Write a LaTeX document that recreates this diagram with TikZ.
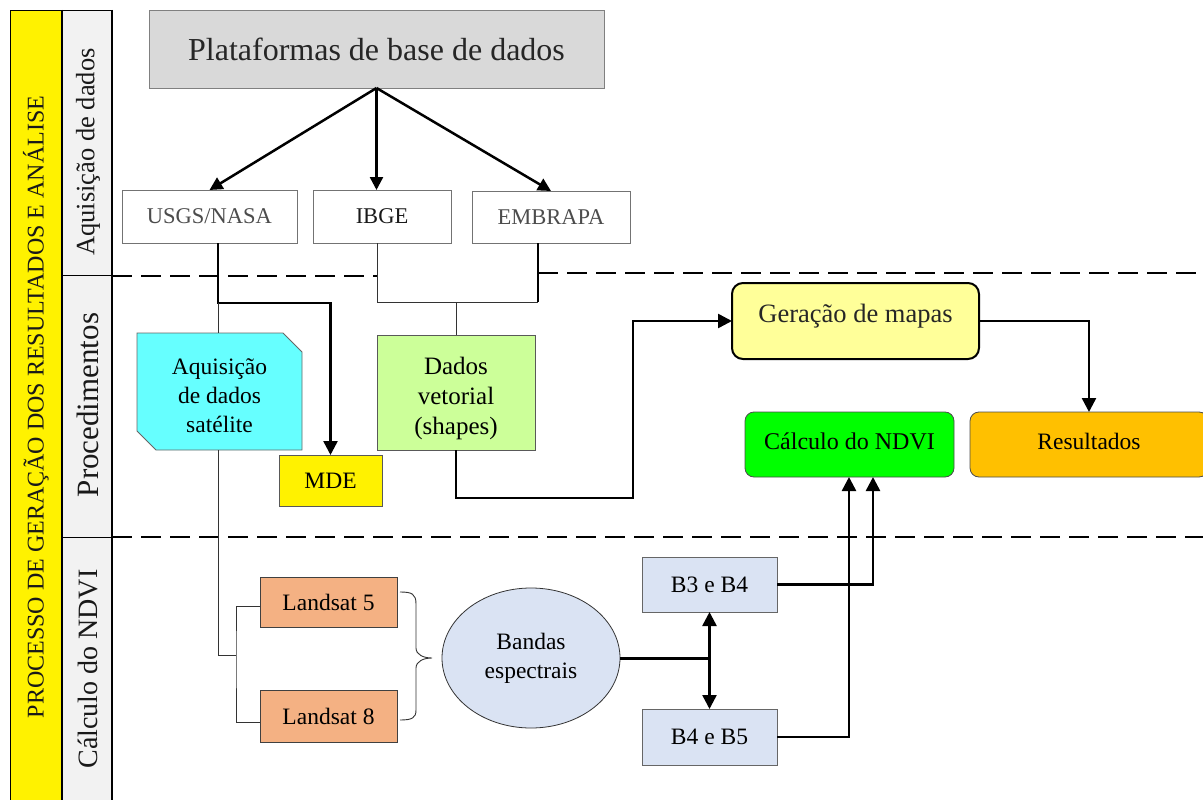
\documentclass[tikz,border=0pt]{standalone}
\usepackage{fontspec}
\setmainfont{Liberation Serif}
\usetikzlibrary{arrows.meta,calc,shapes.geometric}
\definecolor{titlegray}{HTML}{D9D9D9}
\definecolor{cyanfill}{HTML}{66FFFF}
\definecolor{vecgreen}{HTML}{CCFF99}
\definecolor{mapyellow}{HTML}{FFFF99}
\definecolor{ndvigreen}{HTML}{00FF00}
\definecolor{resorange}{HTML}{FFC000}
\definecolor{landsatc}{HTML}{F4B183}
\definecolor{bandblue}{HTML}{DAE3F3}
\definecolor{colgray}{HTML}{F2F2F2}
\newcommand{\lowerlines}[1]{\raisebox{-6pt}[\height][\depth]{\begin{tabular}{@{}c@{}}#1\end{tabular}}}
\begin{document}
\begin{tikzpicture}[x=1pt,y=-1pt,
  base/.style={inner sep=0pt, outer sep=0pt, align=center, line width=0.8pt,
    font=\fontsize{23.5}{29}\selectfont, text=black},
  srcbox/.style={base, draw=black!55, fill=white, text=black!70, font=\fontsize{22.5}{27}\selectfont},
  plainbox/.style={base, draw=black!65},
  roundbox/.style={base, draw=black!70, rounded corners=9pt},
  conn/.style={line width=2.5pt, black},
  thinconn/.style={line width=0.9pt, black!80},
  arr/.style={conn, -{Triangle[length=14pt,width=14pt]}},
  arrsmall/.style={conn, -{Triangle[length=13pt,width=13pt]}},
  dashline/.style={line width=2.8pt, black, dash pattern=on 20pt off 9pt},
  sidelabel/.style={rotate=90, inner sep=0pt, text=black!90}
]
\useasboundingbox (0,0) rectangle (1203,800);

% ---------- left columns ----------
\fill[yellow] (10,10) rectangle (62,800);
\fill[colgray] (62,10) rectangle (112,800);
\draw[line width=0.9pt] (10,800) -- (10,10) -- (112,10);
\draw[line width=1.2pt] (62,10) -- (62,800);
\draw[line width=1pt] (62,275) -- (112,275);
\draw[line width=1pt] (62,537) -- (112,537);
\draw[line width=2pt] (112,10) -- (112,800);
\node[sidelabel, font=\fontsize{24}{24}\selectfont] (lproc) at (36,407) {PROCESSO DE GERAÇÃO DOS RESULTADOS E ANÁLISE};
\node[sidelabel, font=\fontsize{26.5}{26.5}\selectfont] (laq) at (88,152) {Aquisição de dados};
\node[sidelabel, font=\fontsize{31}{31}\selectfont] (lpr) at (88,405) {Procedimentos};
\node[sidelabel, font=\fontsize{28}{28}\selectfont] (lcal) at (88,669) {Cálculo do NDVI};

% ---------- dashed separators ----------
\draw[dashline] (112,276) -- (377,276);
\draw[dashline] (538,273) -- (1203,273);
\draw[dashline] (112,537) -- (1203,537);

% ---------- top ----------
\node[base, draw=black!50, fill=titlegray, minimum width=455pt, minimum height=78pt,
      font=\fontsize{32}{36}\selectfont, text=black!85] (title) at (376.5,49) {Plataformas de base de dados};
\node[srcbox, minimum width=175pt, minimum height=53pt] (usgs) at (209.5,216.5) {USGS/NASA};
\node[srcbox, minimum width=138pt, minimum height=53pt, text=black!90] (ibge) at (382,216.5) {IBGE};
\node[srcbox, minimum width=158pt, minimum height=52pt] (embrapa) at (551,217) {EMBRAPA};

\draw[arrsmall] (title.south) -- (usgs.north);
\draw[arrsmall] (title.south) -- (ibge.north -| title.south);
\draw[arrsmall] (title.south) -- (embrapa.north);

% ---------- procedimentos ----------
\draw[fill=cyanfill, draw=black!60, line width=0.8pt]
  (137,333) -- (283,333) -- (302,352) -- (302,450) -- (156,450) -- (137,431) -- cycle;
\node[base, minimum width=165pt, minimum height=117pt] (cyan) at (219.5,391.5) {\lowerlines{Aquisição\\de dados\\satélite}};
\node[plainbox, fill=yellow, minimum width=103pt, minimum height=51pt] (mde) at (330.5,480.5) {MDE};
\node[plainbox, fill=vecgreen, minimum width=158pt, minimum height=115pt,
      font=\fontsize{25}{30}\selectfont] (dados) at (456,392.5) {\lowerlines{Dados\\vetorial\\(shapes)}};

\node[base, draw=black, line width=2pt, fill=mapyellow, rounded corners=11pt,
      minimum width=247pt, minimum height=76pt, font=\fontsize{26.5}{30}\selectfont, text=black!85]
      (ger) at (855.5,321) {\raisebox{16pt}{Geração de mapas}};
\node[roundbox, fill=ndvigreen, minimum width=209pt, minimum height=65pt,
      font=\fontsize{24}{29}\selectfont] (calc) at (849.5,444.5) {\raisebox{6pt}{Cálculo do NDVI}};
\node[roundbox, fill=resorange, minimum width=238pt, minimum height=65pt] (res) at (1089,444.5) {\raisebox{6pt}{Resultados}};

% USGS -> MDE (thick) and thin branch to satellite box
\draw[arr] ([xshift=8.5pt]usgs.south) -- ++(0,60) coordinate (ju) -| (mde.north);
\draw[thinconn] (ju) -- (ju |- cyan.north);

% IBGE / EMBRAPA -> Dados vetorial
\path ([xshift=-13pt]embrapa.south) ++(0,59) coordinate (jv);
\draw[thinconn] ([xshift=-5pt]ibge.south) |- (jv);
\draw[conn] ([xshift=-13pt]embrapa.south) -- (jv);
\draw[thinconn] (dados.north) -- (dados.north |- jv);

% Dados vetorial -> Geracao de mapas
\draw[arr] (dados.south) -- ++(0,48) -- ++(177,0) |- (ger.west);
% Geracao -> Resultados
\draw[arr] (ger.east) -| (res.north);

% ---------- calculo do NDVI ----------
\node[plainbox, draw=black!75, fill=landsatc, minimum width=137pt, minimum height=50pt] (l5) at (328.5,602) {Landsat 5};
\node[plainbox, draw=black!75, fill=landsatc, minimum width=137pt, minimum height=52pt] (l8) at (328.5,716) {Landsat 8};
\node[base, draw=black!80, fill=bandblue, ellipse, minimum width=178pt, minimum height=140pt,
      font=\fontsize{23.5}{29}\selectfont] (ell) at (531,658) {Bandas\\espectrais};
\node[plainbox, draw=black!60, fill=bandblue, minimum width=135pt, minimum height=55pt] (b34) at (709.5,584.5) {B3 e B4};
\node[plainbox, draw=black!60, fill=bandblue, minimum width=135pt, minimum height=56pt] (b45) at (709.5,737) {B4 e B5};

% satellite box -> Landsat bracket
\coordinate (k) at (236,655);
\draw[thinconn] (ju |- cyan.south) -- (ju |- k) -- (k);
\draw[thinconn] ([yshift=-4pt]l5.west) -| (k) |- ([yshift=-6pt]l8.west);

% curly brace
\draw[thinconn] (400,592) .. controls (412,592) and (416,594) .. (416,604) -- (416,648)
  .. controls (416,655) and (424,658) .. (432,658)
  .. controls (424,658) and (416,661) .. (416,668) -- (416,710)
  .. controls (416,718) and (412,720) .. (400,720);

% Bandas -> B3e4 / B4e5
\coordinate (jb) at (ell.east -| b34.south);
\draw[line width=3pt] (ell.east) -- (jb);
\draw[arr] (jb) -- (b34.south);
\draw[arr] (jb) -- (b45.north);

% B bands -> Calculo do NDVI
\draw[arr] (b45.east) -| ([xshift=-0.5pt]calc.south);
\draw[arr] (b34.east) -| ([xshift=23.5pt]calc.south);
\end{tikzpicture}
\end{document}
